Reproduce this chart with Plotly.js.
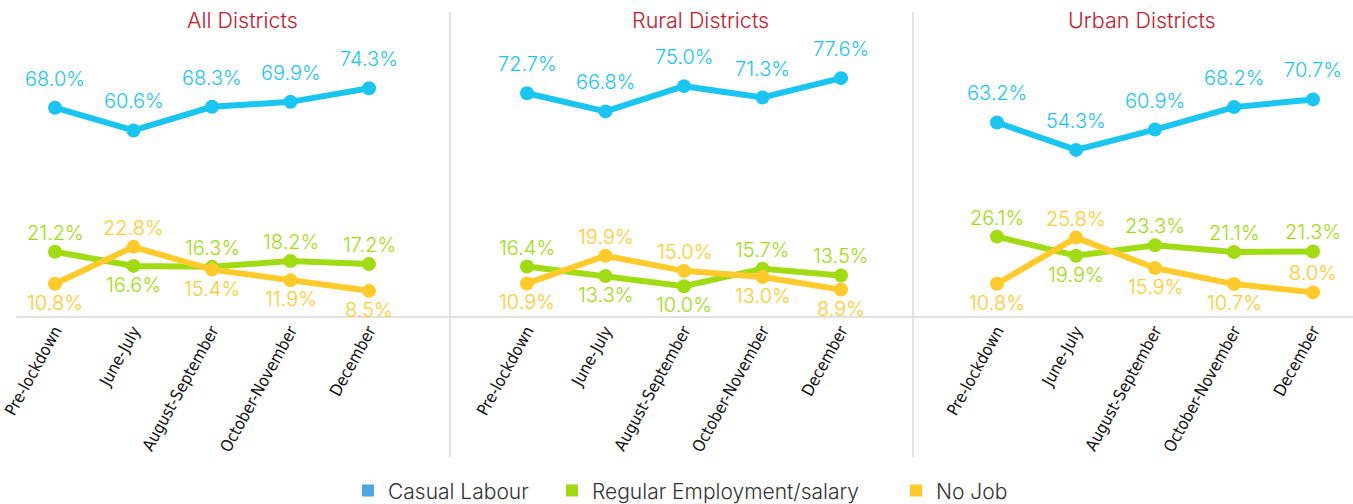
<!DOCTYPE html>
<html>
<head>
<meta charset="utf-8">
<script src="https://cdn.plot.ly/plotly-3.0.1.min.js"></script>
<style>html,body{margin:0;padding:0;background:#fff;}#chart{width:1353px;height:504px;}</style>
</head>
<body>
<div id="chart"></div>
<script>
// ---- data ----
const categories = ['Pre-lockdown', 'June-July', 'August-September', 'October-November', 'December'];
const panelTitles = ['All Districts', 'Rural Districts', 'Urban Districts'];
const seriesNames = ['Casual Labour', 'Regular Employment/salary', 'No Job'];

const allCasual   = [68.0, 60.6, 68.3, 69.9, 74.3];
const allRegular  = [21.2, 16.6, 16.3, 18.2, 17.2];
const allNoJob    = [10.8, 22.8, 15.4, 11.9, 8.5];

const ruralCasual  = [72.7, 66.8, 75.0, 71.3, 77.6];
const ruralRegular = [16.4, 13.3, 10.0, 15.7, 13.5];
const ruralNoJob   = [10.9, 19.9, 15.0, 13.0, 8.9];

const urbanCasual  = [63.2, 54.3, 60.9, 68.2, 70.7];
const urbanRegular = [26.1, 19.9, 23.3, 21.1, 21.3];
const urbanNoJob   = [10.8, 25.8, 15.9, 10.7, 8.0];

// ---- styles ----
const lineColors   = ['#1bc5f1', '#a1db13', '#ffca2c'];
const legendColors = ['#4aa5e0', '#a1d90f', '#ffc927'];
// label placement (style): +1 above, -1 below
const labelSides = [
  [[1,1,1,1,1], [1,-1,1,1,1], [-1,1,-1,-1,-1]],
  [[1,1,1,1,1], [1,-1,-1,1,1], [-1,1,1,-1,-1]],
  [[1,1,1,1,1], [1,-1,1,1,1], [-1,1,-1,-1,1]]
];
const labelOffsets = [29, 19, 19];
const legendLeft = [348, 552, 896];

const panelData = [
  [allCasual, allRegular, allNoJob],
  [ruralCasual, ruralRegular, ruralNoJob],
  [urbanCasual, urbanRegular, urbanNoJob]
];

const W = 1353;
const domains = [
  [15.75 / W, 408.25 / W],
  [487.75 / W, 880.25 / W],
  [957.5 / W, 1352.5 / W]
];
const titleX = [242 / W, 700 / W, 1142 / W];
const tickFamily = 'Liberation Sans Narrow, Arial Narrow, DejaVu Sans Condensed, sans-serif';
const textFamily = 'Inter, Noto Sans, sans-serif';

const traces = [];
const annotations = [];
const layout = {
  width: 1353, height: 504,
  margin: {l: 0, r: 0, t: 40, b: 187, autoexpand: false},
  paper_bgcolor: '#ffffff', plot_bgcolor: '#ffffff',
  font: {family: textFamily, color: '#333'},
  showlegend: true,
  shapes: [],
  annotations: annotations
};

panelData.forEach((series, p) => {
  const sfx = p === 0 ? '' : String(p + 1);
  const xa = 'x' + sfx, ya = 'y' + sfx;
  layout['xaxis' + sfx] = {
    domain: domains[p], anchor: ya, type: 'category',
    categoryarray: categories, categoryorder: 'array',
    range: [-0.5, 4.5], showgrid: false, zeroline: false, showline: false,
    ticks: '', tickangle: -61, automargin: false,
    tickfont: {family: tickFamily, size: 16.5, color: '#111'},
    fixedrange: true
  };
  layout['yaxis' + sfx] = {
    domain: [0, 1], anchor: xa, range: [0, 90], visible: false, fixedrange: true, automargin: false
  };
  series.forEach((vals, s) => {
    traces.push({
      type: 'scatter', mode: 'lines+markers', x: categories, y: vals,
      xaxis: xa, yaxis: ya, name: seriesNames[s], showlegend: false,
      line: {color: lineColors[s], width: 6},
      marker: {color: lineColors[s], size: 14},
      cliponaxis: false, hoverinfo: 'skip'
    });
    vals.forEach((v, i) => {
      annotations.push({
        xref: xa, yref: ya, x: categories[i], y: v,
        text: v.toFixed(1) + '%', showarrow: false,
        yshift: labelSides[p][s][i] * labelOffsets[s],
        font: {size: 20, color: lineColors[s], family: textFamily, weight: 300}
      });
    });
  });
  annotations.push({
    xref: 'paper', yref: 'paper', x: titleX[p], y: (317 - 20) / 277,
    xanchor: 'center', yanchor: 'middle', showarrow: false,
    text: panelTitles[p], font: {size: 21.5, color: '#c1202f', family: textFamily, weight: 300}
  });
});

// legend entries: one small legend per series, placed side by side
seriesNames.forEach((n, s) => {
  const key = s === 0 ? 'legend' : 'legend' + (s + 1);
  layout[key] = {
    orientation: 'h', x: legendLeft[s] / W, xanchor: 'left', y: -0.628, yanchor: 'middle',
    font: {size: 21, color: '#333', family: textFamily, weight: 300},
    itemwidth: 30, bgcolor: 'rgba(0,0,0,0)', borderwidth: 0
  };
  traces.push({
    type: 'scatter', mode: 'markers', x: [null], y: [null], name: n,
    legend: key,
    marker: {symbol: 'square', size: 12, color: legendColors[s]},
    showlegend: true, hoverinfo: 'skip'
  });
});

// baseline and separators
layout.shapes.push({
  type: 'line', xref: 'paper', yref: 'paper', x0: 16 / W, x1: 1, y0: 0, y1: 0,
  line: {color: '#e2e2e2', width: 2}, layer: 'below'
});
[450, 913].forEach(px => {
  layout.shapes.push({
    type: 'line', xref: 'paper', yref: 'paper', x0: px / W, x1: px / W,
    y0: (317 - 12) / 277, y1: (317 - 457) / 277,
    line: {color: '#e2e2e2', width: 2}, layer: 'below'
  });
});

Plotly.newPlot('chart', traces, layout, {displayModeBar: false, staticPlot: true});
</script>
</body>
</html>
